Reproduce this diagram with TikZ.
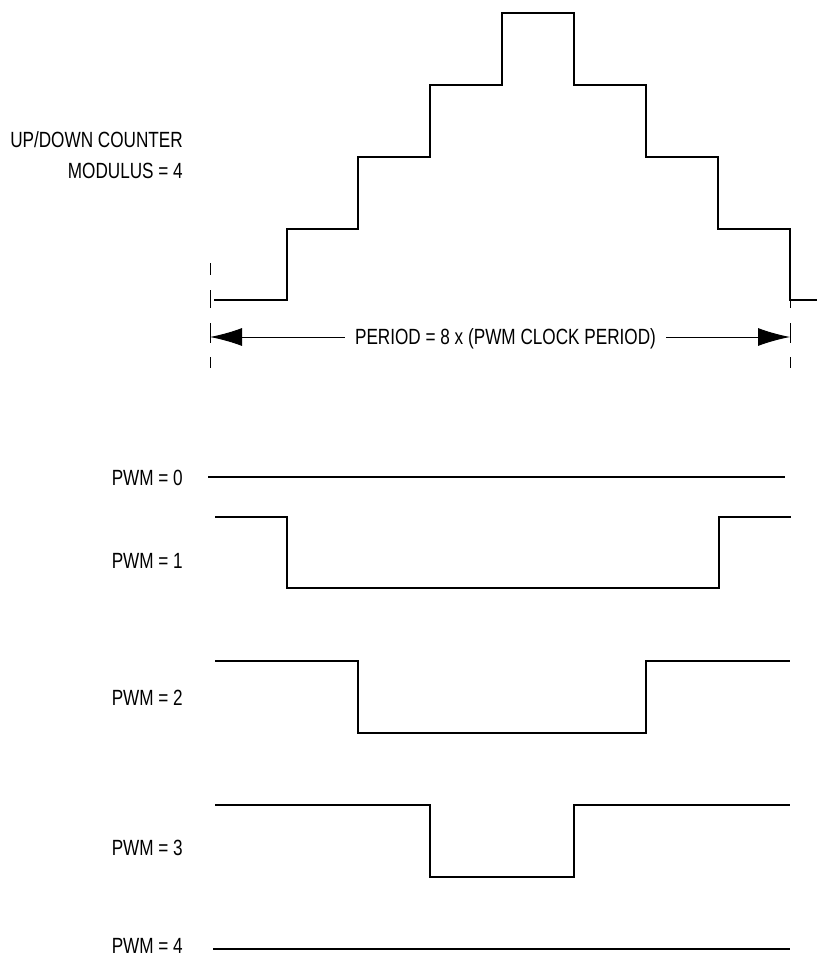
\documentclass[tikz,border=0pt]{standalone}
\usepackage{fontspec}
\setmainfont{Liberation Sans}[FakeStretch=0.78]
\usepackage{tikz}
\usetikzlibrary{arrows.meta}
\usetikzlibrary{positioning}
\tikzset{lbl/.style={anchor=base east, inner sep=0pt, font=\fontsize{22}{26}\selectfont},
wave/.style={line width=1.4pt},
marker/.style={line width=1pt, dash pattern=on 12pt off 15pt on 18pt off 15pt on 20pt off 14pt on 11pt},
>={Latex[length=32pt,width=18pt]}}

\begin{document}
\begin{tikzpicture}[x=1pt,y=-1pt]
  \useasboundingbox (0,0) rectangle (817,958);

  % counter labels
  \node (updown) [lbl] at (183,147) {UP/DOWN COUNTER};
  \node (modulus) [lbl] at (183,178) {MODULUS = 4};

  % up/down counter staircase
  \draw [wave] (214,300) -| (287,229) -| (358,157) -| (430,85) -| (502,13)
    -| (574,85) -| (646,157) -| (718,229) -| (790,300) -- (817,300);

  % period markers
  \coordinate (tl) at (210,337);
  \coordinate (tr) at (790,337);
  \draw [marker] (210,263) -- (210,368);
  \draw [marker] (790,263) -- (790,368);
  \node (period) [inner xsep=10pt, inner ysep=0pt, text height=15.7pt, text depth=0pt,
    font=\fontsize{22}{26}\selectfont] at (505.5,337) {PERIOD = 8 x (PWM CLOCK PERIOD)};
  \draw [->, line width=1pt] (period.west) -- (tl);
  \draw [->, line width=1pt] (period.east) -- (tr);

  % pwm outputs
  \node (pwm0) [lbl] at (183,485) {PWM = 0};
  \node (pwm1) [lbl] at (183,568) {PWM = 1};
  \node (pwm2) [lbl] at (183,705) {PWM = 2};
  \node (pwm3) [lbl] at (183,855) {PWM = 3};
  \node (pwm4) [lbl] at (183,953) {PWM = 4};

  \draw [wave] (208,477) -- (785,477);
  \draw [wave] (215,517) -| (287,588) -| (719,517) -- (791,517);
  \draw [wave] (215,661) -| (358,733) -| (646,661) -- (790,661);
  \draw [wave] (215,805) -| (430,877) -| (574,805) -- (790,805);
  \draw [wave] (213,949) -- (790,949);
\end{tikzpicture}
\end{document}
